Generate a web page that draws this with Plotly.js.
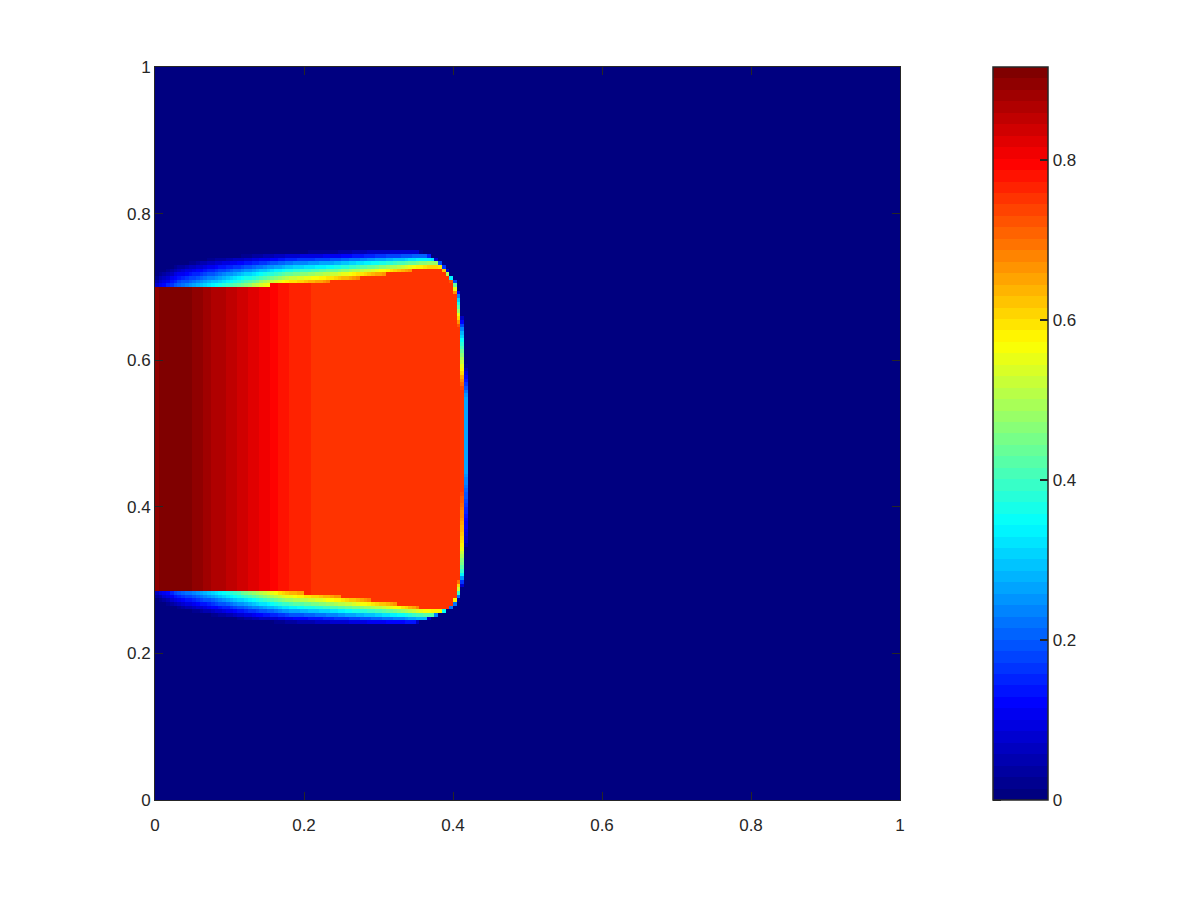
<!DOCTYPE html>
<html>
<head>
<meta charset="utf-8">
<script src="https://cdn.plot.ly/plotly-3.0.1.min.js"></script>
<style>html,body{margin:0;padding:0;background:#fff;}#chart{width:1200px;height:900px;}</style>
</head>
<body>
<div id="chart"></div>
<script>
// ---- values ----
// value of the injected plume along x (inside the body)
const profileX  = [0, 0.01, 0.045, 0.08, 0.12, 0.15, 0.18, 0.21, 0.25, 0.42];
const bodyValue = [0.895, 0.905, 0.905, 0.87, 0.835, 0.805, 0.77, 0.758, 0.755, 0.755];

// upper and lower edges of the body and of its diffuse fringe, along x
const edgeX        = [0, 0.03, 0.08, 0.13, 0.18, 0.24, 0.3, 0.33, 0.35, 0.37, 0.42];
const topBody      = [0.700, 0.700, 0.701, 0.702, 0.703, 0.708, 0.716, 0.720, 0.723, 0.725, 0.725];
const topFringe    = [0.716, 0.732, 0.741, 0.745, 0.748, 0.749, 0.751, 0.751, 0.751, 0.750, 0.750];
const topPeak      = [0.08, 0.22, 0.35, 0.50, 0.65, 0.68, 0.68, 0.68, 0.68, 0.68, 0.68];
const bottomBody   = [0.287, 0.287, 0.286, 0.285, 0.284, 0.279, 0.271, 0.267, 0.263, 0.261, 0.261];
const bottomFringe = [0.272, 0.260, 0.250, 0.244, 0.240, 0.238, 0.237, 0.237, 0.237, 0.238, 0.238];
const bottomPeak   = [0.08, 0.22, 0.35, 0.50, 0.65, 0.68, 0.68, 0.68, 0.68, 0.68, 0.68];

// right-hand front position as a function of y
const frontY = [0.232, 0.238, 0.245, 0.250, 0.260, 0.270, 0.285, 0.310, 0.350, 0.450, 0.550, 0.640, 0.686, 0.705, 0.719, 0.733, 0.743, 0.750, 0.756];
const frontX = [0.310, 0.335, 0.356, 0.369, 0.390, 0.400, 0.405, 0.409, 0.411, 0.413, 0.413, 0.408, 0.403, 0.399, 0.389, 0.378, 0.365, 0.345, 0.320];

// axis / colour-bar ticks
const axisTicks   = [0, 0.2, 0.4, 0.6, 0.8, 1];
const axisLabels  = ['0', '0.2', '0.4', '0.6', '0.8', '1'];
const cbarTicks   = [0, 0.2, 0.4, 0.6, 0.8];
const cbarLabels  = ['0', '0.2', '0.4', '0.6', '0.8'];
const zMin = 0, zMax = 0.916;

// ---- build the grid table from the values above ----
function interp(xs, ys, x) {
  if (x <= xs[0]) return ys[0];
  if (x >= xs[xs.length - 1]) return ys[ys.length - 1];
  for (let i = 1; i < xs.length; i++) {
    if (x <= xs[i]) {
      const t = (x - xs[i - 1]) / (xs[i] - xs[i - 1]);
      return ys[i - 1] + t * (ys[i] - ys[i - 1]);
    }
  }
}
const N = 200;
const gx = [], gy = [];
for (let i = 0; i < N; i++) { gx.push((i + 0.5) / N); gy.push((i + 0.5) / N); }
const z = [];
for (let j = 0; j < N; j++) {
  const y = gy[j];
  const row = [];
  let fx = -1;
  if (y >= frontY[0] && y <= frontY[frontY.length - 1]) fx = interp(frontY, frontX, y);
  for (let i = 0; i < N; i++) {
    const x = gx[i];
    let v = 0;
    const bt = interp(edgeX, topBody, x), ft = interp(edgeX, topFringe, x);
    const bb = interp(edgeX, bottomBody, x), fb = interp(edgeX, bottomFringe, x);
    if (y >= bb && y <= bt) v = interp(profileX, bodyValue, x);
    else if (y > bt && y < ft) v = interp(edgeX, topPeak, x) * (1 - (y - bt) / (ft - bt));
    else if (y < bb && y > fb) v = interp(edgeX, bottomPeak, x) * (1 - (bb - y) / (bb - fb));
    if (fx < 0) v = 0;
    else if (x > fx) v *= Math.max(0, 1 - (x - fx) / 0.007);
    row.push(v);
  }
  z.push(row);
}

// jet colormap, 64 discrete levels
function jet(t) {
  const c = v => Math.max(0, Math.min(1, v));
  const r = c(Math.min(4 * t - 1.5, -4 * t + 4.5));
  const g = c(Math.min(4 * t - 0.5, -4 * t + 3.5));
  const b = c(Math.min(4 * t + 0.5, -4 * t + 2.5));
  return 'rgb(' + Math.round(r * 255) + ',' + Math.round(g * 255) + ',' + Math.round(b * 255) + ')';
}
const levels = 64, colorscale = [];
for (let k = 0; k < levels; k++) {
  const col = jet(k / (levels - 1));
  colorscale.push([k / levels, col]);
  colorscale.push([(k + 1) / levels, col]);
}

const ink = '#262626';
const font = {family: 'Liberation Sans, Arial, sans-serif', size: 17, color: ink};
const plotW = 745;
const cbX = (993 - 155) / plotW;
const cbShapes = cbarTicks.map(v => ({
  type: 'line', xref: 'paper', yref: 'paper',
  x0: cbX, x1: cbX + 8 / plotW, y0: (v - zMin) / (zMax - zMin), y1: (v - zMin) / (zMax - zMin),
  line: {color: ink, width: 2}
}));

const trace = {
  type: 'heatmap', x: gx, y: gy, z: z,
  zmin: zMin, zmax: zMax, colorscale: colorscale, zsmooth: false,
  colorbar: {
    x: cbX, xanchor: 'left', y: 0.5, yanchor: 'middle',
    len: 1, lenmode: 'fraction', thickness: 55, thicknessmode: 'pixels',
    xpad: 0, ypad: 0, outlinewidth: 1.5, outlinecolor: ink,
    tickmode: 'array', tickvals: cbarTicks, ticktext: cbarLabels,
    ticks: 'inside', ticklen: 8, tickwidth: 2, tickcolor: ink,
    tickfont: font
  },
  hoverinfo: 'skip'
};

const axisCommon = {
  range: [0, 1], tickmode: 'array', tickvals: axisTicks, ticktext: axisLabels,
  ticks: 'inside', ticklen: 8, tickcolor: ink, showline: true, linecolor: ink, linewidth: 1,
  mirror: 'ticks', showgrid: false, zeroline: false, tickfont: font, fixedrange: true
};

const layout = {
  width: 1200, height: 900,
  margin: {l: 155, r: 300, t: 67, b: 100},
  paper_bgcolor: '#ffffff', plot_bgcolor: '#ffffff',
  xaxis: Object.assign({}, axisCommon, {ticklabelstandoff: 10}),
  yaxis: Object.assign({}, axisCommon),
  shapes: cbShapes,
  font: font,
  showlegend: false
};

Plotly.newPlot('chart', [trace], layout, {displayModeBar: false, staticPlot: true});
</script>
</body>
</html>
